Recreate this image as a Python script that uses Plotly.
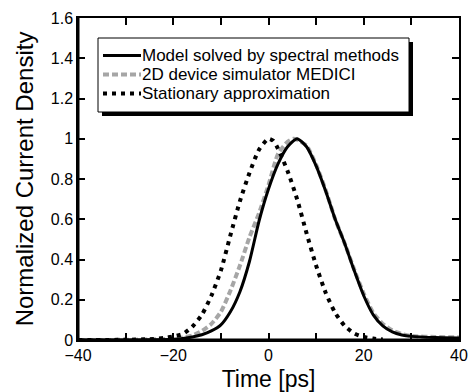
import plotly.graph_objects as go

# Data
t_model = [-40, -30, -25, -20, -18, -16, -14, -12, -10, -8, -6, -4, -2, 0, 2, 4, 6, 8, 10, 12, 14, 16, 18, 20, 22, 24, 26, 28, 30, 35, 40]
v_model = [0.0, 0.0, 0.001, 0.004, 0.008, 0.015, 0.026, 0.045, 0.075, 0.14, 0.24, 0.39, 0.59, 0.75, 0.875, 0.96, 1.0, 0.96, 0.865, 0.74, 0.6, 0.48, 0.345, 0.22, 0.125, 0.07, 0.04, 0.025, 0.018, 0.012, 0.01]

t_medici = [-40, -30, -25, -20, -18, -16, -14, -12, -10, -8, -6, -4, -2, 0, 2, 4, 5.2, 6, 8, 10, 12, 14, 16, 18, 20, 22, 24, 26, 28, 30, 35, 40]
v_medici = [0.0, 0.001, 0.003, 0.006, 0.012, 0.022, 0.045, 0.08, 0.14, 0.245, 0.37, 0.51, 0.63, 0.77, 0.925, 0.985, 1.0, 0.995, 0.965, 0.87, 0.745, 0.6, 0.48, 0.35, 0.23, 0.135, 0.08, 0.048, 0.03, 0.02, 0.015, 0.013]

t_stat = [-40, -30, -25, -22, -20, -18, -16, -14, -12, -10, -8, -6, -4, -2, 0, 1, 2, 4, 6, 8, 10, 12, 14, 16, 18, 20, 22, 24]
v_stat = [0.0, 0.001, 0.004, 0.01, 0.018, 0.03, 0.066, 0.125, 0.22, 0.345, 0.52, 0.69, 0.83, 0.945, 1.0, 0.99, 0.95, 0.84, 0.70, 0.53, 0.37, 0.235, 0.135, 0.07, 0.033, 0.015, 0.007, 0.003]

names = ["Model solved by spectral methods", "2D device simulator MEDICI", "Stationary approximation"]

x_ticks = [-40, -20, 0, 20, 40]
y_ticks = [0, 0.2, 0.4, 0.6, 0.8, 1, 1.2, 1.4, 1.6]

FONT = "Liberation Sans, Arial, sans-serif"

styles = [
    dict(color="black", width=3),
    dict(color="#a6a6a6", width=4, dash="6px,3px"),
    dict(color="black", width=4, dash="4px,5px"),
]

fig = go.Figure()
fig.add_trace(go.Scatter(x=t_medici, y=v_medici, mode="lines", name=names[1],
                         line=dict(**styles[1], shape="spline", smoothing=0.6)))
fig.add_trace(go.Scatter(x=t_model, y=v_model, mode="lines", name=names[0],
                         line=dict(**styles[0], shape="spline", smoothing=0.6)))
fig.add_trace(go.Scatter(x=t_stat, y=v_stat, mode="lines", name=names[2],
                         line=dict(**styles[2], shape="spline", smoothing=0.6)))

W, H = 473, 392
L, R, T, B = 78, 14, 18, 52
pw, ph = W - L - R, H - T - B

def px(xp):
    return (xp - L) / pw

def py(yp):
    return 1 - (yp - T) / ph

shapes = [
    # legend drop shadow and box
    dict(type="rect", xref="paper", yref="paper",
         x0=px(102), x1=px(413), y0=py(116), y1=py(42),
         fillcolor="black", line=dict(width=0), layer="above"),
    dict(type="rect", xref="paper", yref="paper",
         x0=px(98), x1=px(409), y0=py(112), y1=py(38),
         fillcolor="white", line=dict(color="black", width=1), layer="above"),
    # thicker left and bottom axis lines
    dict(type="line", xref="paper", yref="paper", x0=0, x1=0, y0=0, y1=1,
         line=dict(color="black", width=3), layer="above"),
    dict(type="line", xref="paper", yref="paper", x0=0, x1=1, y0=0, y1=0,
         line=dict(color="black", width=3), layer="above"),
]
annotations = []
row_y = [55.5, 74.5, 93.5]
for name, st, ry in zip(names, styles, row_y):
    shapes.append(dict(type="line", xref="paper", yref="paper",
                       x0=px(103), x1=px(141), y0=py(ry), y1=py(ry),
                       line=st, layer="above"))
    annotations.append(dict(text=name, xref="paper", yref="paper",
                            x=px(140), y=py(ry), xanchor="left", yanchor="middle",
                            showarrow=False, font=dict(size=17, family=FONT, color="black")))

fig.update_layout(
    width=W, height=H,
    margin=dict(l=L, r=R, t=T, b=B),
    paper_bgcolor="white", plot_bgcolor="white",
    font=dict(family=FONT, color="black", size=16),
    showlegend=False,
    xaxis=dict(
        range=[-40, 40], tickvals=x_ticks, ticks="inside", ticklen=7, tickwidth=1.5,
        tickcolor="black", showline=True, linecolor="black", linewidth=1.5,
        mirror="ticks", showgrid=False, zeroline=False, automargin=False,
        minor=dict(dtick=10, ticks="inside", ticklen=7, tickwidth=1.5, tickcolor="black", showgrid=False),
        tickfont=dict(size=16),
        title=dict(text="Time [ps]", font=dict(size=23), standoff=9),
    ),
    yaxis=dict(
        range=[0, 1.6], tickvals=y_ticks, ticks="inside", ticklen=7, tickwidth=1.5,
        tickcolor="black", showline=True, linecolor="black", linewidth=1.5,
        mirror="ticks", showgrid=False, zeroline=False, automargin=False,
        tickfont=dict(size=16),
        title=dict(text="Normalized Current Density", font=dict(size=24), standoff=10),
    ),
    shapes=shapes,
    annotations=annotations,
)

fig.write_html("out.html", config={"displayModeBar": False},
               post_script="document.body.style.margin='0';document.body.style.overflow='hidden';")
